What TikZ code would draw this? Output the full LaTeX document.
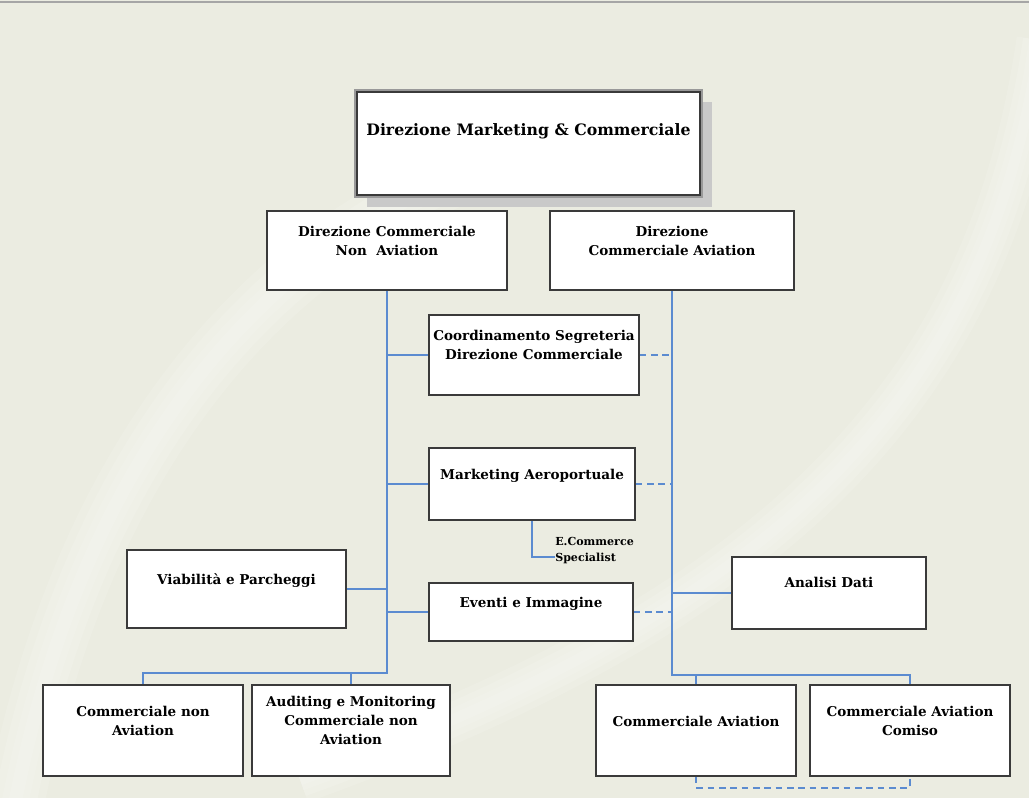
\documentclass[tikz,border=0pt]{standalone}
\usepackage{fontspec}
\setmainfont{DejaVu Serif}
\definecolor{bgc}{HTML}{EBECE1}
\definecolor{lnc}{HTML}{5B8BD0}
\definecolor{bdc}{HTML}{3A3A3A}
\definecolor{shc}{HTML}{C9C9C9}
\newcommand\orgbox[5]{%
  \node[box, minimum width={(#4-#2)*0.75pt}, minimum height={(#5-#3)*0.75pt}]
    (#1) at ({(#2+#4)/2},{(#3+#5)/2}) {};}
\begin{document}
\begin{tikzpicture}[x=0.75pt,y=-0.75pt,
  box/.style={draw=bdc, line width=1.2pt, fill=white, inner sep=0pt},
  txt/.style={font=\bfseries\fontsize{10.15}{14.6}\selectfont, align=center, inner sep=0pt, anchor=north},
  conn/.style={draw=lnc, line width=1.3pt},
  dconn/.style={conn, dash pattern=on 5pt off 3.5pt},
  swoosh/.style={white, opacity=0.12}]
\useasboundingbox (0,0) rectangle (1029,806);
% background
\fill[bgc] (0,0) rectangle (1029,798);
\fill[white] (0,798) rectangle (1029,806);
\begin{scope}
\clip (0,3) rectangle (1029,798);
\foreach \w in {44,32,20,10}{
  \draw[swoosh, line width=\w pt] (10,830) .. controls (80,430) and (300,180) .. (620,130);
  \draw[swoosh, line width=0.8*\w pt] (300,780) .. controls (800,600) and (990,380) .. (1040,40);
}
\end{scope}
\draw[gray!70, line width=1.2pt] (0,2) -- (1029,2);
% top box
\fill[shc] (367,102) rectangle (712,207);
\draw[gray!80, line width=0.9pt] (355,90) rectangle (702,197);
\orgbox{top}{357}{92}{700}{195}
\node[txt, font=\bfseries\fontsize{11.8}{16}\selectfont] (topt) at (528.5,123.5) {Direzione Marketing \& Commerciale};
% boxes
\orgbox{dna}{267}{211}{507}{290}
\orgbox{dca}{550}{211}{794}{290}
\orgbox{coord}{429}{315}{639}{395}
\orgbox{mkt}{429}{448}{635}{520}
\orgbox{evt}{429}{583}{633}{641}
\orgbox{viab}{127}{550}{346}{628}
\orgbox{anal}{732}{557}{926}{629}
\orgbox{cnav}{43}{685}{243}{776}
\orgbox{aud}{252}{685}{450}{776}
\orgbox{cav}{596}{685}{796}{776}
\orgbox{comiso}{810}{685}{1010}{776}
% texts
\node[txt] (dnat) at (387,225.5) {Direzione Commerciale\\Non~ Aviation};
\node[txt] (dcat) at (672,225.5) {Direzione\\Commerciale Aviation};
\node[txt] (coordt) at (534,329.5) {Coordinamento Segreteria\\Direzione Commerciale};
\node[txt] (mktt) at (532,468.5) {Marketing Aeroportuale};
\node[txt] (evtt) at (531,596.5) {Eventi e Immagine};
\node[txt] (viabt) at (236.5,573.5) {Viabilità e Parcheggi};
\node[txt] (analt) at (829,576.5) {Analisi Dati};
\node[txt] (cnavt) at (143,705.5) {Commerciale non\\Aviation};
\node[txt] (audt) at (351,695.5) {Auditing e Monitoring\\Commerciale non\\Aviation};
\node[txt] (cavt) at (696,715.5) {Commerciale Aviation};
\node[txt] (comisot) at (910,705.5) {Commerciale Aviation\\Comiso};
\node[txt, anchor=north west, align=left, font=\bfseries\fontsize{8.3}{12}\selectfont] (ecom) at (555,536.6) {E.Commerce\\Specialist};
% connectors
\coordinate (lb) at (387,673);
\coordinate (rb) at (672,675);
\coordinate (ecomend) at (555,557);
\draw[conn] (dna.south) -- (lb) -| (cnav.north);
\draw[conn] (aud.north) -- (aud.north |- lb);
\draw[conn] (coord.west) -- (coord.west -| lb);
\draw[conn] (mkt.west) -- (mkt.west -| lb);
\draw[conn] (evt.west) -- (evt.west -| lb);
\draw[conn] (viab.east) -- (viab.east -| lb);
\draw[conn] (dca.south) -- (rb) -| (comiso.north);
\draw[conn] (cav.north) -- (cav.north |- rb);
\draw[conn] (anal.west) -- (anal.west -| rb);
\draw[dconn] (coord.east) -- (coord.east -| rb);
\draw[dconn] (mkt.east) -- (mkt.east -| rb);
\draw[dconn] (evt.east) -- (evt.east -| rb);
\draw[dconn] (cav.south) -- ++(0,11) -| (comiso.south);
\draw[conn, line width=1pt] (mkt.south) |- (ecomend);
\end{tikzpicture}
\end{document}
